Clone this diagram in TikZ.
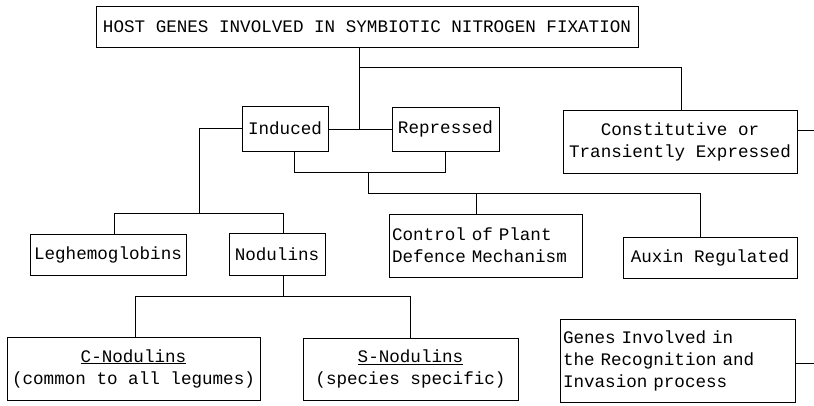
\documentclass[tikz,border=0pt]{standalone}
\usepackage{fontspec}
\newfontfamily\tw{Liberation Mono}
\begin{document}
\begin{tikzpicture}[x=1pt,y=-1pt,line width=1pt,
  box/.style={draw,rectangle,inner sep=0pt,font=\tw\fontsize{17.6}{22}\selectfont,align=center},
  lbox/.style={draw,rectangle,inner xsep=3pt,inner ysep=0pt,font=\tw\fontsize{17.6}{22}\selectfont,align=left},
  conn/.style={draw,line width=1pt}]
\useasboundingbox (0,0) rectangle (814,405);
% boxes
\node[box,minimum width=542,minimum height=41] (top) at (367,26.5) {HOST GENES INVOLVED IN SYMBIOTIC NITROGEN FIXATION};
\node[box,minimum width=86,minimum height=45] (ind) at (285,128.5) {Induced};
\node[box,minimum width=107,minimum height=44] (rep) at (445.5,129) {Repressed};
\node[box,minimum width=234,minimum height=63] (con) at (680,141.5) {Constitutive or\\Transiently Expressed};
\node[box,minimum width=156,minimum height=41] (leg) at (108,254.5) {Leghemoglobins};
\node[box,minimum width=96,minimum height=42] (nod) at (277,254) {Nodulins};
\node[lbox,text width=187,minimum height=63] (ctl) at (485.5,245.5) {Control of Plant\\Defence Mechanism};
\node[box,minimum width=174,minimum height=41] (aux) at (710,257.5) {Auxin Regulated};
\node[box,minimum width=253,minimum height=63] (cn) at (133.5,368.5) {\underline{C-Nodulins}\\(common to all legumes)};
\node[box,minimum width=215,minimum height=62] (sn) at (410.5,369) {\underline{S-Nodulins}\\(species specific)};
\node[lbox,text width=229,minimum height=83] (gen) at (677.5,360.5) {Genes Involved in\\the Recognition and\\Invasion process};
% junction coordinates
\coordinate (j1) at (359,129);
\coordinate (j2) at (359,67);
\coordinate (j3) at (681,67);
\coordinate (l1) at (199,128);
\coordinate (l2) at (199,213);
\coordinate (l3) at (114,213);
\coordinate (l4) at (283,213);
\coordinate (b1) at (294,172);
\coordinate (b2) at (445,172);
\coordinate (b3) at (368,172);
\coordinate (b4) at (368,193);
\coordinate (b5) at (476,193);
\coordinate (b6) at (700,193);
\coordinate (n1) at (283,296);
\coordinate (n2) at (135,296);
\coordinate (n3) at (410,296);
\coordinate (e1) at (814,130);
\coordinate (e2) at (814,363);
% connectors
\draw[conn] (top.south -| j1) -- (j1);
\draw[conn] (j2) -- (j3) -- (j3 |- con.north);
\draw[conn] (ind.east |- j1) -- (rep.west |- j1);
\draw[conn] (ind.west |- l1) -- (l1) -- (l2);
\draw[conn] (l3 |- leg.north) -- (l3) -- (l4) -- (l4 |- nod.north);
\draw[conn] (b1 |- ind.south) -- (b1) -- (b2) -- (b2 |- rep.south);
\draw[conn] (b3) -- (b4) -- (b6) -- (b6 |- aux.north);
\draw[conn] (b5) -- (b5 |- ctl.north);
\draw[conn] (n1 |- nod.south) -- (n1);
\draw[conn] (n2 |- cn.north) -- (n2) -- (n3) -- (n3 |- sn.north);
\draw[conn] (con.east |- e1) -- (e1);
\draw[conn] (gen.east |- e2) -- (e2);
\end{tikzpicture}
\end{document}
